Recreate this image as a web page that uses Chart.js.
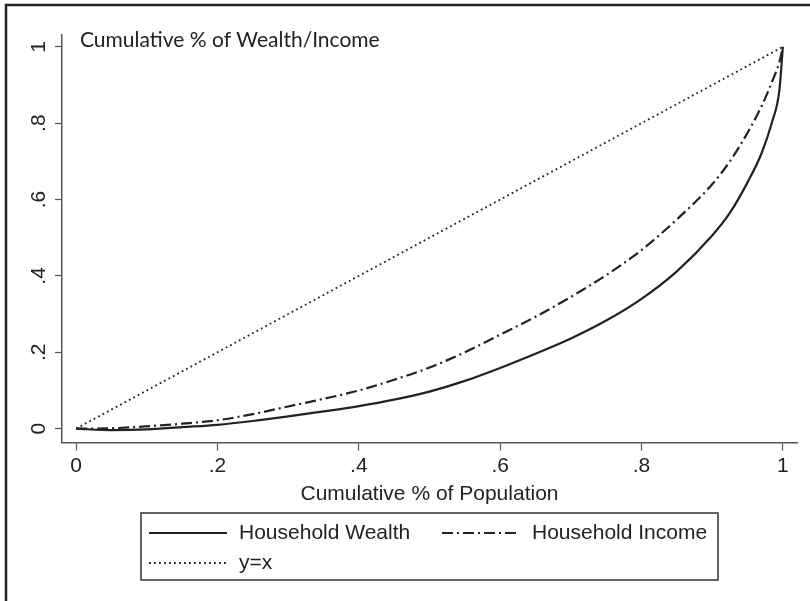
<!DOCTYPE html>
<html>
<head>
<meta charset="utf-8">
<script src="https://cdn.jsdelivr.net/npm/chart.js@4.4.1/dist/chart.umd.min.js"></script>
<style>
  html, body { margin: 0; padding: 0; background: #fff; }
  #wrap { width: 810px; height: 601px; }
</style>
</head>
<body>
<div id="wrap"><canvas id="lorenz"></canvas></div>
<script>
// cumulative share of population (x) and the curves
const population = [0, 0.05, 0.1, 0.15, 0.2, 0.25, 0.3, 0.35, 0.4, 0.45, 0.5, 0.55, 0.6,
  0.65, 0.7, 0.75, 0.8, 0.85, 0.9, 0.925, 0.95, 0.97, 0.985, 0.995, 1];
const wealthShare = [0, -0.004, -0.002, 0.004, 0.010, 0.020, 0.032, 0.045, 0.059, 0.076, 0.097,
  0.125, 0.159, 0.196, 0.236, 0.283, 0.340, 0.412, 0.506, 0.565, 0.645, 0.722, 0.805, 0.885, 1.0];
const incomeShare = [0, 0.001, 0.006, 0.013, 0.022, 0.038, 0.058, 0.078, 0.100, 0.128, 0.160,
  0.200, 0.246, 0.293, 0.345, 0.402, 0.468, 0.548, 0.640, 0.700, 0.775, 0.845, 0.910, 0.960, 1.0];
const equalityX = [0, 1];
const equalityY = [0, 1];

const seriesLabels = ['Household Wealth', 'Household Income', 'y=x'];
const xTicks = [0, 0.2, 0.4, 0.6, 0.8, 1];
const yTicks = [0, 0.2, 0.4, 0.6, 0.8, 1];
const xTitle = 'Cumulative % of Population';
const yNote = 'Cumulative % of Wealth/Income';

const INK = '#222';
const AXIS_FONT = '"Liberation Sans Narrow", "Arial Narrow", "Liberation Sans", sans-serif';
const NOTE_FONT = 'Lato, "Open Sans", sans-serif';

const tickText = v => String(v).replace(/^0\./, '.');
const toPoints = (xs, ys) => xs.map((x, i) => ({ x: x, y: ys[i] }));

// outer frame (only top and left edges show in the original)
const framePlugin = {
  id: 'frame',
  afterDraw(chart) {
    const c = chart.ctx;
    c.save();
    c.strokeStyle = INK;
    c.lineWidth = 2.5;
    c.beginPath();
    c.moveTo(810, 5);
    c.lineTo(6, 5);
    c.lineTo(6, 601);
    c.stroke();
    c.restore();
  }
};

// text placed inside the plot region, top left
const notePlugin = {
  id: 'note',
  afterDraw(chart) {
    const c = chart.ctx;
    c.save();
    c.fillStyle = INK;
    c.font = '21px ' + NOTE_FONT;
    c.textBaseline = 'middle';
    c.fillText(yNote, 80, 40);
    c.restore();
  }
};

// Stata style boxed legend below the axis title
const boxLegend = {
  id: 'boxLegend',
  afterDraw(chart) {
    const c = chart.ctx;
    const box = { x: 141, y: 513, w: 577, h: 67 };
    const slots = [
      { x: 149, y: 533 },
      { x: 442, y: 533 },
      { x: 149, y: 563 }
    ];
    c.save();
    c.strokeStyle = '#333';
    c.lineWidth = 1.5;
    c.strokeRect(box.x, box.y, box.w, box.h);
    chart.data.datasets.forEach((ds, i) => {
      const s = slots[i];
      c.strokeStyle = ds.borderColor;
      c.lineWidth = ds.borderWidth;
      c.setLineDash(ds.borderDash || []);
      c.beginPath();
      c.moveTo(s.x, s.y);
      c.lineTo(s.x + 78, s.y);
      c.stroke();
      c.setLineDash([]);
      c.fillStyle = INK;
      c.font = '21px ' + AXIS_FONT;
      c.textBaseline = 'middle';
      c.fillText(ds.label, s.x + 90, s.y);
    });
    c.restore();
  }
};

const ctx = document.getElementById('lorenz');
new Chart(ctx, {
  type: 'scatter',
  data: {
    datasets: [{
      label: seriesLabels[0],
      data: toPoints(population, wealthShare),
      showLine: true,
      borderColor: INK,
      borderWidth: 2.2,
      pointRadius: 0,
      cubicInterpolationMode: 'monotone'
    }, {
      label: seriesLabels[1],
      data: toPoints(population, incomeShare),
      showLine: true,
      borderColor: INK,
      borderWidth: 2.2,
      borderDash: [11, 4, 2, 4],
      pointRadius: 0,
      cubicInterpolationMode: 'monotone'
    }, {
      label: seriesLabels[2],
      data: toPoints(equalityX, equalityY),
      showLine: true,
      borderColor: INK,
      borderWidth: 1.8,
      borderDash: [1.8, 3.2],
      pointRadius: 0
    }]
  },
  options: {
    responsive: true,
    maintainAspectRatio: false,
    animation: false,
    layout: { padding: { top: 35, right: 13, left: 0, bottom: 94 } },
    plugins: {
      legend: { display: false },
      tooltip: { enabled: false }
    },
    scales: {
      x: {
        type: 'linear',
        min: -0.02,
        max: 1.02,
        afterBuildTicks: s => { s.ticks = xTicks.map(v => ({ value: v })); },
        grid: { drawOnChartArea: false, drawTicks: true, tickLength: 8, tickColor: '#555', tickWidth: 1.2 },
        border: { display: true, color: '#555', width: 1.5 },
        ticks: {
          color: INK,
          padding: 3,
          maxRotation: 0,
          font: { family: AXIS_FONT, size: 21 },
          callback: v => tickText(v)
        },
        title: {
          display: true,
          text: xTitle,
          color: INK,
          font: { family: AXIS_FONT, size: 21 },
          padding: { top: 0, bottom: 0 }
        }
      },
      y: {
        min: -0.0366,
        max: 1.031,
        afterBuildTicks: s => { s.ticks = yTicks.map(v => ({ value: v })); },
        afterFit: s => { s.width = 62; },
        grid: { drawOnChartArea: false, drawTicks: true, tickLength: 7, tickColor: '#555', tickWidth: 1.2 },
        border: { display: true, color: '#555', width: 1.5 },
        ticks: {
          color: INK,
          padding: 7,
          minRotation: 90,
          maxRotation: 90,
          crossAlign: 'center',
          font: { family: AXIS_FONT, size: 21 },
          callback: v => tickText(v)
        }
      }
    }
  },
  plugins: [framePlugin, notePlugin, boxLegend]
});
</script>
</body>
</html>
